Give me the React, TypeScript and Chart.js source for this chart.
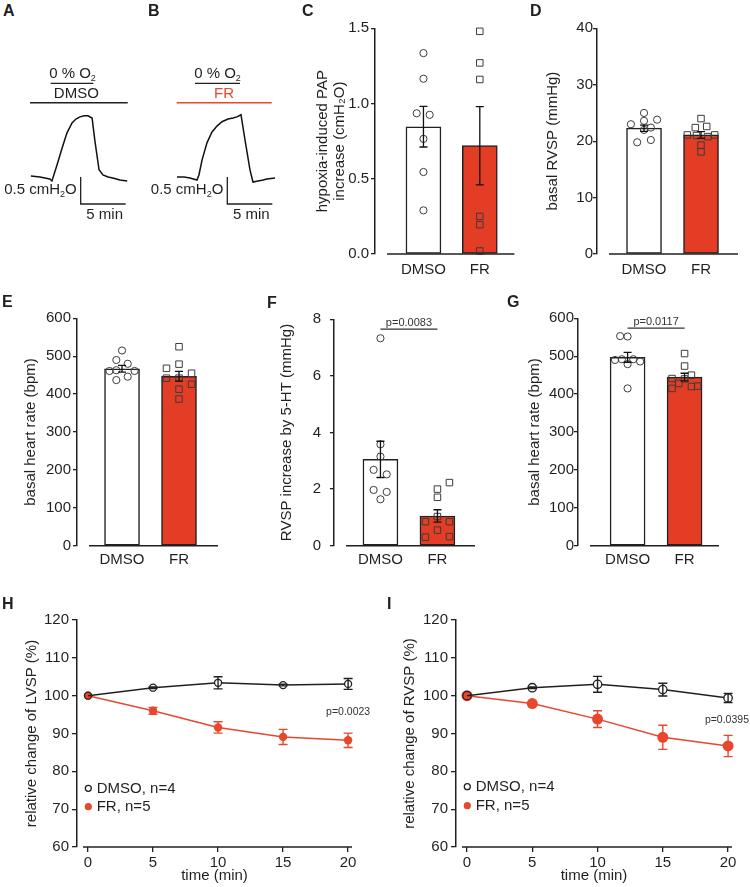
import React, { useEffect, useRef } from 'react';
import { Chart, registerables } from 'chart.js';

Chart.register(...registerables);

const FONT = "'Liberation Sans', Arial, 'DejaVu Sans', sans-serif";
const INK = '#231f20';
const RED = '#e43d25';
const RED_LINE = '#e8472e';
const MARK = '#3c3c3c';

Chart.defaults.font.family = FONT;
Chart.defaults.color = INK;

// ---------- categories & labels ----------
const groups = ['DMSO', 'FR'];
const o2Label = '0 % O';
const unitBarY = '0.5 cmH';
const unitBarX = '5 min';
const legendLabels = ['DMSO, n=4', 'FR, n=5'];

// ---------- A / B : PAP traces (min, cmH2O above baseline) ----------
const traceATime = [0.1, 1.1, 2.2, 2.44, 3.0, 3.56, 4.1, 4.67, 5.1, 5.56, 6.0, 6.44, 6.9, 7.2, 7.67, 8.1, 8.67, 9.2, 10.0, 10.8];
const traceAValue = [0.056, 0.037, 0.0, -0.037, 0.26, 0.57, 0.85, 1.04, 1.11, 1.15, 1.17, 1.17, 1.13, 0.72, 0.17, 0.074, 0.037, 0.019, -0.019, -0.037];
const traceBTime = [0, 0.78, 1.44, 2.22, 2.44, 2.78, 3.33, 3.89, 4.44, 5.0, 5.67, 6.22, 6.67, 7.11, 7.56, 8.11, 8.44, 9.0, 9.56, 10.0, 10.89];
const traceBValue = [0.037, 0.037, 0.019, -0.019, 0.074, 0.35, 0.67, 0.87, 0.98, 1.06, 1.11, 1.13, 1.15, 1.19, 0.72, 0.17, -0.056, -0.037, -0.019, 0.0, 0.019];

// ---------- C : hypoxia-induced PAP increase ----------
const papMean = [0.846, 0.72];
const papSem = [0.135, 0.26];
const papDmso = [1.335, 1.165, 0.935, 0.925, 0.765, 0.545, 0.29];
const papDmsoJitter = [0, 0, -0.12, 0.11, 0, 0, 0];
const papFr = [1.48, 1.27, 1.16, 0.25, 0.195, 0.02];
const papFrJitter = [0, 0, 0, 0, 0, 0];

// ---------- D : basal RVSP ----------
const rvspMean = [22.3, 21.1];
const rvspSem = [0.55, 0.6];
const rvspDmso = [25.0, 23.6, 23.8, 23.0, 22.0, 20.2, 19.8, 22.4];
const rvspDmsoJitter = [0, 0, 0.23, -0.23, 0, 0.12, -0.12, 0.12];
const rvspFr = [24.0, 22.4, 22.6, 21.1, 21.1, 21.0, 20.8, 19.3, 18.1];
const rvspFrJitter = [0, -0.1, 0.1, -0.24, 0.24, -0.08, 0.12, 0, 0];

// ---------- E : basal heart rate ----------
const hrMean = [467, 447];
const hrSem = [9, 13];
const hrDmso = [515, 490, 480, 461, 463, 461, 446, 437];
const hrDmsoJitter = [0, -0.1, 0.1, -0.22, -0.1, 0.22, 0.1, -0.1];
const hrFr = [525, 479, 468, 455, 442, 442, 413, 426, 387];
const hrFrJitter = [0, 0, -0.22, 0.22, -0.22, 0, 0, 0.22, 0];

// ---------- F : RVSP increase by 5-HT ----------
const htMean = [3.05, 1.05];
const htSem = [0.64, 0.22];
const htDmso = [7.33, 3.58, 3.15, 2.68, 2.52, 1.97, 1.9, 1.64];
const htDmsoJitter = [0, 0, 0, -0.12, 0.11, -0.12, 0.11, 0];
const htFr = [2.23, 2.0, 1.71, 1.03, 0.85, 0.85, 0.55, 0.3, 0.32];
const htFrJitter = [0.21, 0, 0, 0, -0.21, 0.21, 0, -0.21, 0.21];
const htP = 'p=0.0083';
const htPLevel = 7.65;

// ---------- G : basal heart rate ----------
const hr2Mean = [497, 445];
const hr2Sem = [13, 10];
const hr2Dmso = [553, 552, 490, 492, 492, 486, 479, 415];
const hr2DmsoJitter = [-0.13, 0, -0.22, -0.1, 0.1, 0.22, 0, 0];
const hr2Fr = [507, 474, 450, 441, 428, 415, 420, 421, 440];
const hr2FrJitter = [0, 0, 0.12, -0.22, -0.1, -0.22, 0.12, 0.23, 0];
const hr2P = 'p=0.0117';
const hr2PLevel = 574;

// ---------- H / I : time courses ----------
const timeMin = [0, 5, 10, 15, 20];
const timeTicks = [0, 5, 10, 15, 20];
const lvspDmso = [100, 102.1, 103.4, 102.8, 103.1];
const lvspDmsoSem = [0, 0.2, 1.6, 0.2, 1.45];
const lvspFr = [100, 96.0, 91.6, 89.1, 88.2];
const lvspFrSem = [0, 0.9, 1.5, 2.0, 1.9];
const lvspP = 'p=0.0023';
const rvspTcDmso = [100, 102.1, 103.0, 101.6, 99.4];
const rvspTcDmsoSem = [0, 0.2, 2.1, 1.7, 1.2];
const rvspTcFr = [100, 97.9, 93.8, 89.0, 86.7];
const rvspTcFrSem = [0, 0.3, 2.2, 3.2, 2.8];
const rvspTcP = 'p=0.0395';

const font15 = { family: FONT, size: 15 };

// ---------- helpers ----------
function drawRich(ctx: any, parts: [string, boolean][], x: number, y: number, align: string, size = 15) {
  const main = `${size}px ${FONT}`;
  const small = `${Math.round(size * 0.58)}px ${FONT}`;
  let total = 0;
  const widths = parts.map(([t, sub]) => {
    ctx.font = sub ? small : main;
    const w = ctx.measureText(t).width;
    total += w;
    return w;
  });
  let cx = align === 'left' ? x : align === 'center' ? x - total / 2 : x - total;
  ctx.textAlign = 'left';
  ctx.textBaseline = 'alphabetic';
  parts.forEach(([t, sub], i) => {
    ctx.font = sub ? small : main;
    ctx.fillText(t, cx, sub ? y + size * 0.2 : y);
    cx += widths[i];
  });
}

function hLine(ctx: any, x0: number, x1: number, y: number, color: string, w: number) {
  ctx.strokeStyle = color;
  ctx.lineWidth = w;
  ctx.beginPath();
  ctx.moveTo(x0, y);
  ctx.lineTo(x1, y);
  ctx.stroke();
}

// ---------- trace panels ----------
function traceConfig(s: any) {
  const anno = {
    id: 'traceAnno',
    afterDatasetsDraw(chart: any) {
      const { ctx, scales } = chart;
      const x = scales.x, y = scales.y;
      ctx.save();
      ctx.fillStyle = INK;
      drawRich(ctx, [[o2Label, false], ['2', true]], s.o2X, 18.3, 'center');
      hLine(ctx, s.o2Line[0], s.o2Line[1], 23.3, INK, 1.2);
      ctx.fillStyle = s.drugColor;
      drawRich(ctx, [[s.drug, false]], s.drugX, 38.3, 'center');
      hLine(ctx, s.drugLine[0], s.drugLine[1], 42.7, s.drugColor, 1.6);
      // scale bars
      const cx = x.getPixelForValue(s.corner[0]);
      const cy = y.getPixelForValue(s.corner[1]);
      const vy = y.getPixelForValue(s.corner[1] + 0.5);
      const hx = x.getPixelForValue(s.corner[0] + 5);
      ctx.strokeStyle = INK;
      ctx.lineWidth = 1.3;
      ctx.beginPath();
      ctx.moveTo(cx, vy);
      ctx.lineTo(cx, cy);
      ctx.lineTo(hx, cy);
      ctx.stroke();
      ctx.fillStyle = INK;
      drawRich(ctx, [[unitBarY, false], ['2', true], ['O', false]], cx - 4, cy - 10, 'right');
      drawRich(ctx, [[unitBarX, false]], (cx + hx) / 2 + 1.5, cy + 15.3, 'center');
      ctx.restore();
    },
  };
  return {
    type: 'line',
    data: {
      datasets: [
        {
          data: s.time.map((t: number, i: number) => ({ x: t, y: s.value[i] })),
          borderColor: '#111',
          borderWidth: 1.5,
          pointRadius: 0,
          tension: 0,
          clip: false,
        },
      ],
    },
    options: {
      responsive: false,
      animation: false,
      devicePixelRatio: 1,
      events: [],
      layout: { padding: s.pad },
      plugins: { legend: { display: false }, tooltip: { enabled: false } },
      scales: {
        x: { type: 'linear', display: false, min: 0, max: s.xMax },
        y: { type: 'linear', display: false, min: -0.2, max: 1.3 },
      },
    },
    plugins: [anno],
  };
}

// ---------- bar panels ----------
function barConfig(s: any) {
  const extras = {
    id: 'barExtras',
    afterDatasetsDraw(chart: any) {
      const { ctx, chartArea, scales } = chart;
      const x = scales.x, y = scales.y;
      ctx.save();
      const y0 = y.getPixelForValue(0);
      hLine(ctx, chartArea.left + 12, chartArea.right, y0, INK, 1.5);
      ctx.strokeStyle = '#111';
      ctx.lineWidth = 1.3;
      s.means.forEach((m: number, i: number) => {
        const px = x.getPixelForValue(i);
        const top = y.getPixelForValue(m + s.sems[i]);
        const bot = y.getPixelForValue(m - s.sems[i]);
        ctx.beginPath();
        ctx.moveTo(px, top);
        ctx.lineTo(px, bot);
        ctx.moveTo(px - 4, top);
        ctx.lineTo(px + 4, top);
        ctx.moveTo(px - 4, bot);
        ctx.lineTo(px + 4, bot);
        ctx.stroke();
      });
      if (s.sig) {
        const ly = y.getPixelForValue(s.sig.level);
        const x0 = x.getPixelForValue(0);
        const x1 = x.getPixelForValue(1);
        hLine(ctx, x0, x1, ly, '#333', 1.3);
        ctx.fillStyle = '#333';
        ctx.font = `11px ${FONT}`;
        ctx.textAlign = 'center';
        ctx.textBaseline = 'alphabetic';
        ctx.fillText(s.sig.text, (x0 + x1) / 2, ly - 3);
      }
      ctx.restore();
    },
  };
  return {
    type: 'bar',
    data: {
      datasets: [
        {
          type: 'bar',
          data: s.means.map((m: number, i: number) => ({ x: i, y: m })),
          backgroundColor: ['#ffffff', RED],
          borderColor: INK,
          borderWidth: 1.5,
          borderSkipped: false,
          barThickness: 35,
          order: 3,
        },
        {
          type: 'scatter',
          data: s.dmso.map((v: number, i: number) => ({ x: s.dmsoJitter[i], y: v })),
          pointStyle: 'circle',
          pointRadius: 3.6,
          pointBackgroundColor: 'rgba(0,0,0,0)',
          pointBorderColor: MARK,
          pointBorderWidth: 1,
          clip: false,
          order: 1,
        },
        {
          type: 'scatter',
          data: s.fr.map((v: number, i: number) => ({ x: 1 + s.frJitter[i], y: v })),
          pointStyle: 'rect',
          pointRadius: 4.6,
          pointBackgroundColor: 'rgba(0,0,0,0)',
          pointBorderColor: MARK,
          pointBorderWidth: 1,
          clip: false,
          order: 1,
        },
      ],
    },
    options: {
      responsive: false,
      animation: false,
      devicePixelRatio: 1,
      events: [],
      layout: { padding: { left: 0, top: s.padTop, right: s.padRight, bottom: 0 } },
      plugins: { legend: { display: false }, tooltip: { enabled: false } },
      scales: {
        x: {
          type: 'linear',
          min: s.xMin,
          max: s.xMin + 2.474,
          offset: false,
          afterBuildTicks: (sc: any) => {
            sc.ticks = groups.map((_, i) => ({ value: i }));
          },
          ticks: {
            font: font15,
            color: INK,
            padding: s.xTickPad,
            autoSkip: false,
            maxRotation: 0,
            callback: (v: any) => groups[Math.round(Number(v))] ?? '',
          },
          grid: { display: false, drawTicks: false },
          border: { display: false },
          afterFit: (sc: any) => {
            sc.height = s.xAxisHeight;
          },
        },
        y: {
          type: 'linear',
          min: s.yMin,
          max: s.yMax,
          ticks: {
            stepSize: s.yStep,
            font: font15,
            color: INK,
            padding: s.tickPad,
            callback: (v: any) => Number(v).toFixed(s.decimals),
          },
          grid: { display: true, drawOnChartArea: false, drawTicks: true, tickLength: 4, color: INK, lineWidth: 1.3 },
          border: { display: true, color: INK, width: 1.5 },
          title: {
            display: true,
            text: s.title,
            font: { family: FONT, size: 15, lineHeight: 1.15 },
            color: INK,
            padding: { top: s.titlePad, bottom: 0 },
          },
          afterFit: (sc: any) => {
            sc.width = s.yAxisWidth;
          },
        },
      },
    },
    plugins: [extras],
  };
}

// ---------- line panels ----------
function lineConfig(s: any) {
  const extras = {
    id: 'lineExtras',
    afterDatasetsDraw(chart: any) {
      const { ctx, chartArea, scales } = chart;
      const x = scales.x, y = scales.y;
      ctx.save();
      hLine(ctx, chartArea.left + 6, chartArea.right, chartArea.bottom, INK, 1.5);
      const drawErr = (means: number[], sems: number[], color: string) => {
        ctx.strokeStyle = color;
        ctx.lineWidth = 1.4;
        means.forEach((m, i) => {
          if (!sems[i]) return;
          const px = x.getPixelForValue(timeMin[i]);
          const top = y.getPixelForValue(m + sems[i]);
          const bot = y.getPixelForValue(m - sems[i]);
          ctx.beginPath();
          ctx.moveTo(px, top);
          ctx.lineTo(px, bot);
          ctx.moveTo(px - 4.5, top);
          ctx.lineTo(px + 4.5, top);
          ctx.moveTo(px - 4.5, bot);
          ctx.lineTo(px + 4.5, bot);
          ctx.stroke();
        });
      };
      drawErr(s.fr, s.frSem, RED_LINE);
      drawErr(s.dmso, s.dmsoSem, INK);
      // legend
      const lx = chartArea.left + 11.3;
      const ly1 = chartArea.bottom - s.legendOff[0];
      const ly2 = chartArea.bottom - s.legendOff[1];
      ctx.strokeStyle = INK;
      ctx.lineWidth = 1.3;
      ctx.beginPath();
      ctx.arc(lx, ly1, 3, 0, Math.PI * 2);
      ctx.stroke();
      ctx.fillStyle = RED_LINE;
      ctx.beginPath();
      ctx.arc(lx, ly2, 3.6, 0, Math.PI * 2);
      ctx.fill();
      ctx.fillStyle = INK;
      ctx.font = `15px ${FONT}`;
      ctx.textAlign = 'left';
      ctx.textBaseline = 'middle';
      ctx.fillText(legendLabels[0], lx + 8.4, ly1 + 0.5);
      ctx.fillText(legendLabels[1], lx + 8.4, ly2 + 0.5);
      // p value
      ctx.fillStyle = '#333';
      ctx.font = `10.5px ${FONT}`;
      ctx.textAlign = 'right';
      ctx.fillText(s.pText, x.getPixelForValue(s.pX), y.getPixelForValue(s.pY));
      ctx.restore();
    },
  };
  return {
    type: 'line',
    data: {
      datasets: [
        {
          label: groups[0],
          data: timeMin.map((t, i) => ({ x: t, y: s.dmso[i] })),
          borderColor: INK,
          borderWidth: 1.5,
          tension: 0,
          pointRadius: s.dmsoR,
          pointBorderWidth: 1.3,
          pointBorderColor: INK,
          pointBackgroundColor: (c: any) => (c.dataIndex === 0 ? 'rgba(0,0,0,0)' : '#ffffff'),
          clip: false,
          order: 1,
        },
        {
          label: groups[1],
          data: timeMin.map((t, i) => ({ x: t, y: s.fr[i] })),
          borderColor: RED_LINE,
          borderWidth: 1.5,
          tension: 0,
          pointRadius: s.frR,
          pointBorderWidth: 0,
          pointBorderColor: RED_LINE,
          pointBackgroundColor: RED_LINE,
          clip: false,
          order: 2,
        },
      ],
    },
    options: {
      responsive: false,
      animation: false,
      devicePixelRatio: 1,
      events: [],
      layout: { padding: { left: 0, top: 30, right: s.padRight, bottom: 0 } },
      plugins: { legend: { display: false }, tooltip: { enabled: false } },
      scales: {
        x: {
          type: 'linear',
          min: s.xMin,
          max: 20.3,
          afterBuildTicks: (sc: any) => {
            sc.ticks = timeTicks.map((v) => ({ value: v }));
          },
          ticks: { font: font15, color: INK, padding: 2, autoSkip: false, maxRotation: 0 },
          grid: { display: true, drawOnChartArea: false, drawTicks: true, tickLength: 5, color: INK, lineWidth: 1.3 },
          border: { display: false },
          title: { display: true, text: 'time (min)', font: font15, color: INK, padding: { top: 0, bottom: 2 } },
          afterFit: (sc: any) => {
            sc.height = 40;
          },
        },
        y: {
          type: 'linear',
          min: 60,
          max: 120,
          ticks: { stepSize: 10, font: font15, color: INK, padding: 3 },
          grid: { display: true, drawOnChartArea: false, drawTicks: true, tickLength: 5, color: INK, lineWidth: 1.3 },
          border: { display: true, color: INK, width: 1.5 },
          title: { display: true, text: s.title, font: font15, color: INK, padding: { top: s.titlePad, bottom: 0 } },
          afterFit: (sc: any) => {
            sc.width = s.yAxisWidth;
          },
        },
      },
    },
    plugins: [extras],
  };
}

// ---------- panel builders ----------
const buildA = () =>
  traceConfig({
    time: traceATime, value: traceAValue, xMax: 10.8,
    pad: { left: 30, right: 12.8, top: 48.8, bottom: 35.2 },
    drug: groups[0], drugColor: INK,
    o2X: 72.5, o2Line: [50.7, 93.3], drugX: 76.3, drugLine: [30, 127.7],
    corner: [5.63, -0.463],
  });
const buildB = () =>
  traceConfig({
    time: traceBTime, value: traceBValue, xMax: 11,
    pad: { left: 37, right: 4, top: 48.8, bottom: 35.2 },
    drug: groups[1], drugColor: RED_LINE,
    o2X: 77.5, o2Line: [55, 100], drugX: 84, drugLine: [36.7, 131.7],
    corner: [5.59, -0.463],
  });
const buildC = () =>
  barConfig({
    means: papMean, sems: papSem, dmso: papDmso, dmsoJitter: papDmsoJitter, fr: papFr, frJitter: papFrJitter,
    yMin: 0, yMax: 1.5, yStep: 0.5, decimals: 1,
    title: ['hypoxia-induced PAP', 'increase (cmH\u2082O)'],
    yAxisWidth: 75, padTop: 28.3, padRight: 4, xAxisHeight: 36, titlePad: 14, tickPad: 2, xMin: -0.86, xTickPad: 7,
  });
const buildD = () =>
  barConfig({
    means: rvspMean, sems: rvspSem, dmso: rvspDmso, dmsoJitter: rvspDmsoJitter, fr: rvspFr, frJitter: rvspFrJitter,
    yMin: 0, yMax: 40, yStep: 10, decimals: 0,
    title: 'basal RVSP (mmHg)',
    yAxisWidth: 77, padTop: 28.3, padRight: 12, xAxisHeight: 36, titlePad: 24, tickPad: 0, xMin: -0.825, xTickPad: 7,
  });
const buildE = () =>
  barConfig({
    means: hrMean, sems: hrSem, dmso: hrDmso, dmsoJitter: hrDmsoJitter, fr: hrFr, frJitter: hrFrJitter,
    yMin: 0, yMax: 600, yStep: 100, decimals: 0,
    title: 'basal heart rate (bpm)',
    yAxisWidth: 77, padTop: 28.3, padRight: 12, xAxisHeight: 34.3, titlePad: 22, tickPad: 2, xMin: -0.79, xTickPad: 5,
  });
const buildF = () =>
  barConfig({
    means: htMean, sems: htSem, dmso: htDmso, dmsoJitter: htDmsoJitter, fr: htFr, frJitter: htFrJitter,
    yMin: 0, yMax: 8, yStep: 2, decimals: 0,
    title: 'RVSP increase by 5-HT (mmHg)',
    yAxisWidth: 94, padTop: 29.3, padRight: 15, xAxisHeight: 34.3, titlePad: 38, tickPad: 9, xMin: -0.815, xTickPad: 5,
    sig: { level: htPLevel, text: htP },
  });
const buildG = () =>
  barConfig({
    means: hr2Mean, sems: hr2Sem, dmso: hr2Dmso, dmsoJitter: hr2DmsoJitter, fr: hr2Fr, frJitter: hr2FrJitter,
    yMin: 0, yMax: 600, yStep: 100, decimals: 0,
    title: 'basal heart rate (bpm)',
    yAxisWidth: 83, padTop: 28.3, padRight: 31, xAxisHeight: 34.3, titlePad: 31, tickPad: 0, xMin: -0.87, xTickPad: 5,
    sig: { level: hr2PLevel, text: hr2P },
  });
const buildH = () =>
  lineConfig({
    dmso: lvspDmso, dmsoSem: lvspDmsoSem, fr: lvspFr, frSem: lvspFrSem,
    title: 'relative change of LVSP (%)', yAxisWidth: 77, padRight: 23, titlePad: 23, xMin: -0.846,
    pText: lvspP, pX: 21.7, pY: 95.7, dmsoR: 3.5, frR: 4.2, legendOff: [58.7, 40.3],
  });
const buildI = () =>
  lineConfig({
    dmso: rvspTcDmso, dmsoSem: rvspTcDmsoSem, fr: rvspTcFr, frSem: rvspTcFrSem,
    title: 'relative change of RVSP (%)', yAxisWidth: 76, padRight: 18, titlePad: 21, xMin: -0.843,
    pText: rvspTcP, pX: 21.6, pY: 93.6, dmsoR: 4.2, frR: 5.5, legendOff: [60.3, 41.3],
  });

function ChartCanvas({ left, top, width, height, build }: any) {
  const ref = useRef<HTMLCanvasElement | null>(null);
  useEffect(() => {
    if (!ref.current) return;
    const chart = new Chart(ref.current, build());
    return () => chart.destroy();
  }, [build]);
  return (
    <canvas
      ref={ref}
      width={width}
      height={height}
      style={{ position: 'absolute', left, top, width, height, display: 'block' }}
    />
  );
}

const panelLetters: [string, number, number][] = [
  ['A', 3, 3], ['B', 148, 3], ['C', 302, 3], ['D', 530, 3],
  ['E', 2, 294], ['F', 267, 295], ['G', 507, 294],
  ['H', 2, 596], ['I', 387, 596],
];

export default function App() {
  return (
    <div
      style={{
        position: 'absolute', left: 0, top: 0, width: 750, height: 887,
        overflow: 'hidden', background: '#ffffff', fontFamily: FONT,
      }}
    >
      <ChartCanvas left={0} top={60} width={140} height={165} build={buildA} />
      <ChartCanvas left={140} top={60} width={140} height={165} build={buildB} />
      <ChartCanvas left={300} top={0} width={220} height={290} build={buildC} />
      <ChartCanvas left={520} top={0} width={230} height={290} build={buildD} />
      <ChartCanvas left={0} top={290} width={230} height={290} build={buildE} />
      <ChartCanvas left={240} top={290} width={250} height={290} build={buildF} />
      <ChartCanvas left={495} top={290} width={255} height={290} build={buildG} />
      <ChartCanvas left={0} top={590} width={375} height={297} build={buildH} />
      <ChartCanvas left={380} top={590} width={370} height={297} build={buildI} />
      {panelLetters.map(([t, x, y]) => (
        <div
          key={t}
          style={{
            position: 'absolute', left: x, top: y, fontSize: 16, lineHeight: '15px',
            fontWeight: 'bold', color: INK, fontFamily: FONT,
          }}
        >
          {t}
        </div>
      ))}
    </div>
  );
}
